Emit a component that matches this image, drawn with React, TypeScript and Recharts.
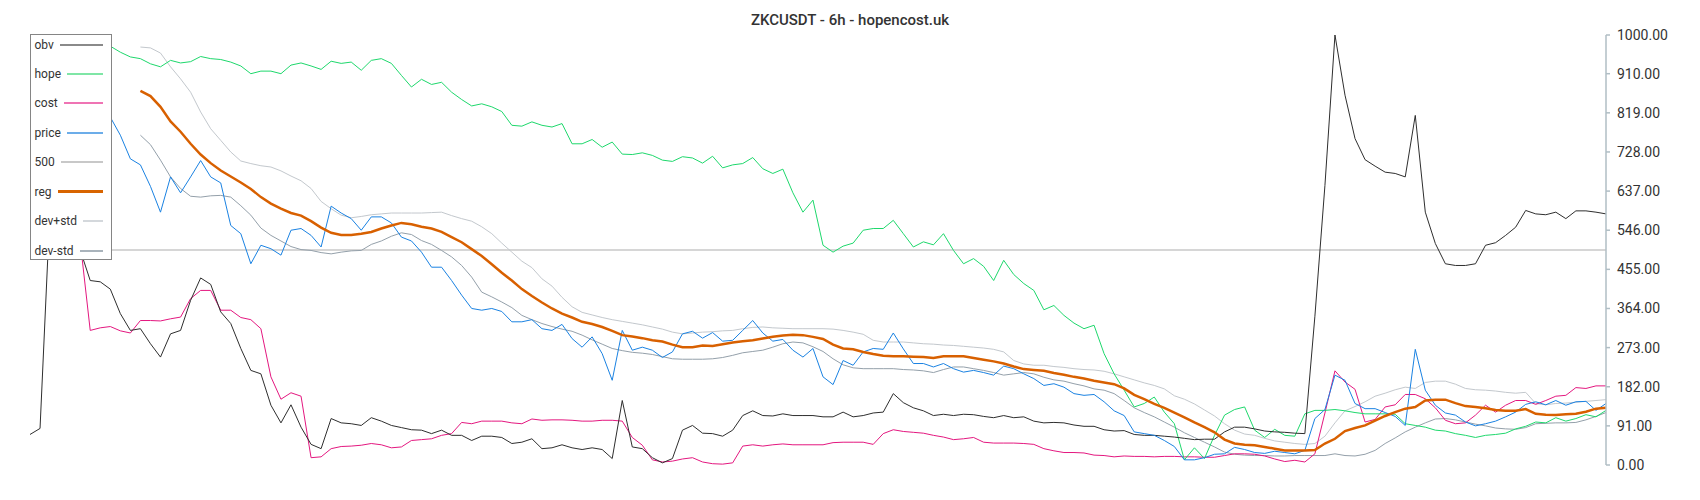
import { LineChart, Line, XAxis, YAxis, ReferenceLine } from 'recharts'

const title = 'ZKCUSDT - 6h - hopencost.uk'

const obv = [
    71, 85, 600, 640, 600, 500, 429, 426, 409, 352,
    313, 317, 282, 251, 305, 313, 383, 435, 420, 356,
    329, 271, 220, 212, 139, 98, 140, 88, 48, 38,
    108, 98, 96, 92, 110, 102, 92, 87, 82, 81,
    73, 81, 69, 69, 57, 67, 67, 64, 50, 53,
    61, 38, 40, 47, 40, 36, 40, 36, 15, 150,
    42, 38, 17, 5, 15, 81, 92, 74, 73, 67,
    81, 115, 126, 115, 114, 119, 115, 115, 115, 112,
    112, 123, 112, 115, 121, 123, 166, 145, 133, 126,
    115, 118, 115, 118, 117, 113, 110, 115, 110, 112,
    102, 98, 99, 98, 93, 90, 90, 82, 79, 80,
    71, 69, 69, 67, 65, 62, 59, 60, 60, 77,
    88, 88, 84, 79, 77, 76, 74, 73, 346, 650,
    1000, 860, 759, 710, 695, 681, 678, 670, 813, 588,
    515, 468, 464, 464, 468, 511, 517, 534, 553, 592,
    584, 582, 588, 573, 591, 591, 588, 584,
]

const hope = [
    995, 990, 995, 1000, 995, 1000, 990, 982, 974, 960,
    949, 945, 933, 926, 941, 935, 938, 950, 945, 943,
    937, 928, 910, 916, 916, 910, 930, 935, 928, 920,
    939, 934, 937, 918, 941, 945, 934, 906, 879, 897,
    885, 890, 867, 850, 835, 840, 833, 822, 790, 788,
    798, 790, 786, 794, 747, 747, 757, 739, 751, 723,
    722, 726, 720, 709, 706, 717, 714, 702, 718, 691,
    698, 701, 715, 689, 678, 688, 633, 588, 616, 511,
    495, 509, 516, 546, 550, 550, 569, 538, 507, 519,
    512, 538, 499, 468, 480, 462, 429, 476, 443, 422,
    406, 361, 371, 348, 330, 317, 325, 259, 212, 174,
    135, 143, 158, 123, 96, 12, 40, 15, 69, 116,
    129, 135, 81, 64, 83, 69, 67, 119, 127, 127,
    129, 126, 122, 119, 119, 119, 118, 96, 92, 88,
    81, 79, 73, 69, 64, 69, 71, 74, 84, 90,
    100, 98, 110, 102, 108, 117, 112, 127,
]

const cost = [
    620, 610, 600, 580, 560, 520, 313, 319, 322, 312,
    307, 336, 336, 335, 340, 344, 387, 406, 406, 360,
    360, 343, 338, 317, 205, 153, 168, 160, 17, 19,
    38, 43, 44, 46, 50, 47, 40, 42, 57, 59,
    61, 69, 73, 99, 96, 102, 102, 102, 98, 96,
    107, 104, 105, 105, 104, 102, 102, 104, 104, 102,
    64, 46, 12, 7, 9, 14, 17, 7, 3, 2,
    5, 44, 47, 44, 47, 49, 47, 47, 47, 47,
    52, 53, 53, 53, 48, 73, 82, 78, 76, 74,
    69, 65, 59, 61, 64, 53, 51, 51, 51, 50,
    48, 38, 33, 29, 29, 28, 23, 22, 19, 21,
    20, 20, 19, 20, 20, 19, 19, 18, 18, 22,
    26, 26, 25, 21, 14, 8, 11, 7, 26, 121,
    219, 193, 176, 100, 106, 135, 140, 164, 164, 154,
    133, 104, 96, 98, 116, 139, 123, 139, 150, 150,
    141, 150, 160, 162, 180, 178, 184, 184,
]

const price = [
    870, 860, 855, 850, 845, 840, 830, 820, 809, 767,
    712, 698, 648, 588, 670, 633, 670, 708, 670, 656,
    557, 538, 468, 511, 503, 488, 546, 550, 534, 507,
    602, 586, 573, 546, 577, 577, 563, 530, 521, 495,
    460, 460, 429, 395, 364, 360, 364, 357, 333, 333,
    338, 317, 313, 327, 294, 274, 298, 259, 197, 313,
    267, 274, 267, 250, 263, 305, 311, 295, 308, 288,
    290, 313, 336, 307, 288, 292, 267, 251, 271, 205,
    187, 243, 232, 263, 271, 269, 307, 270, 236, 236,
    228, 236, 224, 216, 220, 215, 209, 230, 224, 212,
    201, 185, 189, 181, 166, 162, 164, 147, 126, 115,
    77, 73, 69, 57, 43, 12, 12, 17, 25, 26,
    41, 36, 29, 27, 32, 29, 26, 34, 108, 129,
    209, 197, 143, 131, 131, 122, 113, 92, 269, 174,
    139, 121, 116, 100, 91, 96, 102, 112, 123, 141,
    147, 140, 150, 139, 147, 148, 127, 143,
]

const reg = [
    null, null, null, null, null, null, null, null, null, null,
    null, 870, 858, 833, 799, 775, 747, 722, 702, 685,
    671, 657, 642, 623, 608, 596, 586, 580, 567, 552,
    540, 535, 535, 538, 542, 550, 557, 563, 560, 554,
    550, 542, 530, 518, 502, 486, 467, 447, 429, 409,
    393, 378, 364, 352, 343, 333, 328, 321, 312, 302,
    299, 295, 290, 287, 280, 274, 274, 278, 277, 281,
    285, 288, 290, 294, 298, 301, 303, 302, 298, 293,
    280, 271, 269, 263, 258, 254, 253, 253, 252, 251,
    249, 253, 253, 253, 249, 245, 241, 236, 229, 223,
    221, 219, 214, 210, 205, 201, 196, 192, 188, 178,
    163, 153, 142, 133, 122, 111, 99, 88, 76, 59,
    50, 47, 46, 42, 38, 34, 34, 34, 35, 50,
    61, 79, 86, 92, 103, 114, 123, 131, 135, 150,
    152, 152, 144, 137, 135, 132, 128, 126, 126, 130,
    119, 117, 116, 118, 119, 124, 131, 133,
]

const devPlus = [
    null, null, null, null, null, null, null, null, null, null,
    null, 972, 970, 958, 926, 898, 867, 821, 782, 755,
    728, 707, 701, 696, 693, 684, 672, 661, 643, 613,
    596, 581, 575, 578, 582, 584, 586, 586, 586, 586,
    587, 588, 580, 573, 567, 554, 538, 516, 495, 474,
    459, 433, 416, 390, 368, 355, 349, 343, 338, 334,
    330, 326, 321, 316, 309, 305, 307, 309, 310, 312,
    313, 317, 320, 321, 319, 318, 317, 317, 317, 317,
    316, 313, 309, 304, 290, 286, 286, 286, 284, 282,
    281, 279, 278, 276, 274, 272, 269, 263, 243, 235,
    232, 232, 229, 227, 224, 222, 221, 218, 212, 205,
    198, 191, 185, 177, 161, 153, 142, 128, 114, 96,
    81, 72, 69, 62, 56, 53, 50, 48, 50, 67,
    98, 126, 136, 147, 160, 167, 175, 181, 178, 192,
    195, 195, 188, 178, 175, 174, 172, 169, 167, 169,
    143, 140, 143, 144, 146, 148, 150, 152,
]

const devMinus = [
    null, null, null, null, null, null, null, null, null, null,
    null, 767, 745, 709, 670, 643, 625, 623, 626, 627,
    623, 603, 581, 551, 534, 521, 508, 501, 499, 494,
    491, 495, 498, 499, 513, 521, 532, 540, 536, 522,
    513, 499, 484, 464, 437, 402, 391, 379, 366, 348,
    338, 329, 322, 316, 311, 302, 291, 281, 271, 266,
    262, 260, 257, 252, 247, 246, 246, 246, 247, 250,
    255, 261, 264, 267, 274, 282, 286, 284, 275, 264,
    247, 233, 226, 224, 224, 224, 224, 222, 221, 219,
    215, 222, 228, 228, 224, 220, 215, 209, 212, 215,
    212, 204, 198, 195, 189, 184, 177, 174, 166, 150,
    133, 122, 112, 100, 88, 75, 64, 53, 42, 30,
    25, 23, 22, 22, 21, 21, 22, 22, 22, 22,
    26, 22, 21, 25, 34, 50, 63, 77, 88, 98,
    107, 108, 105, 100, 95, 91, 86, 84, 83, 87,
    96, 97, 98, 98, 99, 105, 113, 122,
]

const baseline = 500
const yTicks = [0, 91, 182, 273, 364, 455, 546, 637, 728, 819, 910, 1000]

const legendItems = [
    { name: 'obv', color: '#8a8a8a', width: 2 },
    { name: 'hope', color: '#7fe6a6', width: 2 },
    { name: 'cost', color: '#ef74b4', width: 2 },
    { name: 'price', color: '#6cade9', width: 2 },
    { name: '500', color: '#c8c8c8', width: 2 },
    { name: 'reg', color: '#d86400', width: 3 },
    { name: 'dev+std', color: '#d4d8dc', width: 2 },
    { name: 'dev-std', color: '#a9b3bb', width: 2 },
]

const data = obv.map((v, i) => ({
    i,
    obv: v,
    hope: hope[i],
    cost: cost[i],
    price: price[i],
    reg: reg[i],
    devPlus: devPlus[i],
    devMinus: devMinus[i],
}))

const font = 'Roboto, "Noto Sans", sans-serif'

function ChartLegend() {
    return (
        <div
            style={{
                position: 'absolute',
                left: 29.5,
                top: 34,
                width: 82,
                height: 226,
                boxSizing: 'border-box',
                border: '1.5px solid #858585',
                background: '#fff',
                fontFamily: font,
            }}
        >
            {legendItems.map((item, k) => (
                <div
                    key={item.name}
                    style={{
                        position: 'absolute',
                        left: 4,
                        right: 8,
                        top: 9.5 + k * 29.43 - 9,
                        height: 18,
                        display: 'flex',
                        alignItems: 'center',
                    }}
                >
                    <span style={{ fontSize: 12, color: '#333', whiteSpace: 'nowrap' }}>{item.name}</span>
                    <div style={{ flex: 1, marginLeft: 6, height: item.width, background: item.color }} />
                </div>
            ))}
        </div>
    )
}

export default function App() {
    return (
        <div style={{ position: 'relative', width: 1700, height: 500, background: '#fff' }}>
            <style>{'body{margin:0}'}</style>
            <div
                style={{
                    position: 'absolute',
                    top: 13,
                    left: 0,
                    width: 1700,
                    textAlign: 'center',
                    fontFamily: font,
                    fontSize: 15,
                    lineHeight: '15px',
                    fontWeight: 500,
                    color: '#333',
                }}
            >
                {title}
            </div>
            <LineChart
                width={1700}
                height={500}
                data={data}
                margin={{ top: 35, right: 0, bottom: 35, left: 30 }}
                style={{ fontFamily: font }}
            >
                <XAxis dataKey="i" type="number" domain={[0, data.length - 1]} hide />
                <YAxis
                    orientation="right"
                    width={94}
                    domain={[0, 1000]}
                    ticks={yTicks}
                    interval={0}
                    tickFormatter={(v: number) => v.toFixed(2)}
                    axisLine={{ stroke: '#b0bec5', strokeWidth: 1.5 }}
                    tickLine={{ stroke: '#b0bec5', strokeWidth: 1.5 }}
                    tickSize={4}
                    tickMargin={7}
                    tick={{ fill: '#333', fontSize: 14 }}
                />
                <ReferenceLine y={baseline} stroke="#c8c8c8" strokeWidth={1.5} />
                <Line dataKey="devPlus" stroke="#c3c8cd" strokeWidth={1} dot={false} isAnimationActive={false} />
                <Line dataKey="devMinus" stroke="#94a0aa" strokeWidth={1} dot={false} isAnimationActive={false} />
                <Line dataKey="cost" stroke="#e4177f" strokeWidth={1} dot={false} isAnimationActive={false} />
                <Line dataKey="hope" stroke="#1ed86c" strokeWidth={1} dot={false} isAnimationActive={false} />
                <Line dataKey="obv" stroke="#2e2e2e" strokeWidth={1} dot={false} isAnimationActive={false} />
                <Line dataKey="price" stroke="#1a82e2" strokeWidth={1} dot={false} isAnimationActive={false} />
                <Line dataKey="reg" stroke="#d86000" strokeWidth={2.5} dot={false} isAnimationActive={false} />
            </LineChart>
            <ChartLegend />
        </div>
    )
}
